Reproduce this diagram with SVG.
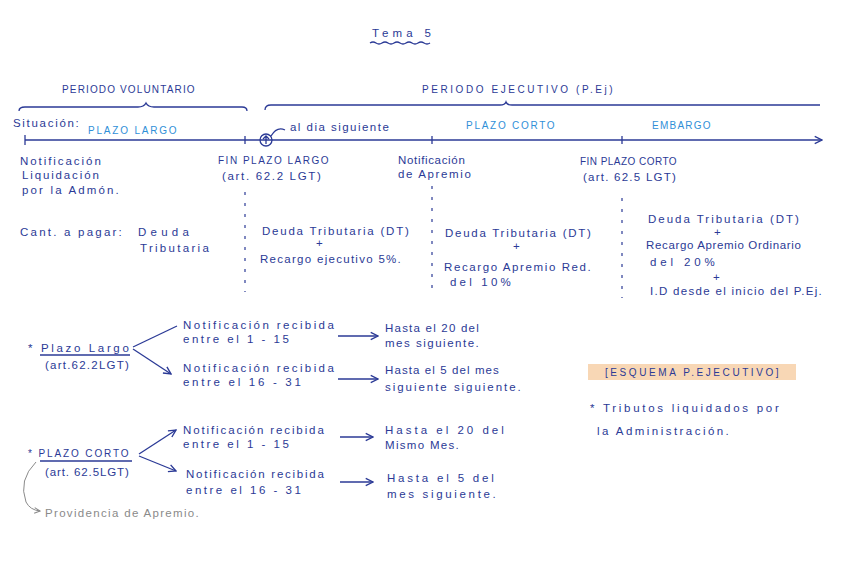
<svg xmlns="http://www.w3.org/2000/svg" width="848" height="588" viewBox="0 0 848 588">
<defs>
<style>
text{font-family:"Liberation Sans","Noto Sans",sans-serif;font-size:11.5px;fill:#2b3a96;letter-spacing:1.2px}
.cap{font-size:10px;letter-spacing:1.4px}
.cy{fill:#2f8fd8;font-size:10px;letter-spacing:1.4px}
.gr{fill:#8a8a8a}
.ln{stroke:#2b3a96;stroke-width:1.3;fill:none}
.dash{stroke:#2b3a96;stroke-width:1.2;stroke-dasharray:3 8;fill:none}
</style>
<marker id="ah" viewBox="0 0 10 10" refX="9" refY="5" markerWidth="7" markerHeight="7" orient="auto"><path d="M1,1 L9,5 L1,9" fill="none" stroke="#2b3a96" stroke-width="1.5"/></marker>
<marker id="ahg" viewBox="0 0 10 10" refX="9" refY="5" markerWidth="7" markerHeight="7" orient="auto"><path d="M1,1 L9,5 L1,9" fill="none" stroke="#8a8a8a" stroke-width="1.5"/></marker>
</defs>
<rect width="848" height="588" fill="#ffffff"/>

<g id="title">
<text x="372" y="37" textLength="60" lengthAdjust="spacing" font-size="12">Tema 5</text>
<path d="M370,43 q3,-2 6,0 t6,0 t6,0 t6,0 t6,0 t6,0 t6,0 t6,0 t6,0 t6,0" class="ln" stroke-width="1"/>
</g>

<g id="periodos">
<text x="62" y="93" class="cap" textLength="134" lengthAdjust="spacing">PERIODO VOLUNTARIO</text>
<text x="422" y="93" class="cap" textLength="192" lengthAdjust="spacing">PERIODO EJECUTIVO (P.Ej)</text>
</g>

<g id="connectors">
<path d="M19,111 q0,-4 6,-4 L138,107 q6,0 8,-4 q2,4 8,4 L242,107 q5,0 5,4" class="ln" stroke-width="1"/>
<path d="M265,110 q0,-5 6,-5 L500,105 q5,0 6,-3 q1,3 6,3 L820,105" class="ln" stroke-width="1"/>
<line x1="25" y1="140" x2="822" y2="140" class="ln" marker-end="url(#ah)"/>
<line x1="25" y1="135" x2="25" y2="145" class="ln"/>
<line x1="245" y1="136" x2="245" y2="144" class="ln"/>
<line x1="432" y1="136" x2="432" y2="144" class="ln"/>
<line x1="622" y1="136" x2="622" y2="144" class="ln"/>
<circle cx="266" cy="140" r="6" class="ln"/>
<path d="M266,144 L266,136 M263,139 L266,136 L269,139" class="ln" stroke-width="1"/>
<path d="M271,136 q6,-10 14,-6" class="ln" stroke-width="1"/>
<line x1="245" y1="192" x2="245" y2="292" class="dash"/>
<line x1="432" y1="186" x2="432" y2="292" class="dash"/>
<line x1="622" y1="198" x2="622" y2="298" class="dash"/>
<line x1="133" y1="347" x2="177" y2="326" class="ln"/>
<line x1="133" y1="349" x2="171" y2="374" class="ln" marker-end="url(#ah)"/>
<line x1="338" y1="336" x2="378" y2="336" class="ln" marker-end="url(#ah)"/>
<line x1="338" y1="379" x2="378" y2="379" class="ln" marker-end="url(#ah)"/>
<line x1="139" y1="454" x2="176" y2="430" class="ln" marker-end="url(#ah)"/>
<line x1="139" y1="456" x2="176" y2="471" class="ln" marker-end="url(#ah)"/>
<line x1="340" y1="437" x2="373" y2="437" class="ln" marker-end="url(#ah)"/>
<line x1="340" y1="482" x2="373" y2="482" class="ln" marker-end="url(#ah)"/>
<path d="M36,462 q-18,18 -10,40 q4,8 14,9" fill="none" stroke="#8a8a8a" stroke-width="1" marker-end="url(#ahg)"/>
</g>

<g id="timeline-labels">
<text x="13" y="127" textLength="67" lengthAdjust="spacing">Situación:</text>
<text x="88" y="134" class="cy" textLength="90" lengthAdjust="spacing">PLAZO LARGO</text>
<text x="290" y="131" textLength="100" lengthAdjust="spacing">al dia siguiente</text>
<text x="466" y="129" class="cy" textLength="90" lengthAdjust="spacing">PLAZO CORTO</text>
<text x="652" y="129" class="cy" textLength="60" lengthAdjust="spacing">EMBARGO</text>
</g>

<g id="notif-liquidacion">
<text x="20" y="165" textLength="82" lengthAdjust="spacing">Notificación</text>
<text x="22" y="179" textLength="78" lengthAdjust="spacing">Liquidación</text>
<text x="22" y="194" textLength="98" lengthAdjust="spacing">por la Admón.</text>
</g>
<g id="fin-plazo-largo">
<text x="218" y="164" class="cap" textLength="112" lengthAdjust="spacing">FIN PLAZO LARGO</text>
<text x="222" y="180" textLength="100" lengthAdjust="spacing">(art. 62.2 LGT)</text>
</g>
<g id="notif-apremio">
<text x="398" y="164" textLength="68" lengthAdjust="spacing">Notificación</text>
<text x="398" y="178" textLength="74" lengthAdjust="spacing">de Apremio</text>
</g>
<g id="fin-plazo-corto">
<text x="580" y="165" class="cap" textLength="98" lengthAdjust="spacing">FIN PLAZO CORTO</text>
<text x="583" y="181" textLength="94" lengthAdjust="spacing">(art. 62.5 LGT)</text>
</g>

<g id="cant-pagar">
<text x="20" y="236" textLength="103" lengthAdjust="spacing">Cant. a pagar:</text>
<text x="138" y="236" textLength="52" lengthAdjust="spacing">Deuda</text>
<text x="140" y="252" textLength="70" lengthAdjust="spacing">Tributaria</text>
</g>
<g id="cant-ejecutivo">
<text x="262" y="235" textLength="148" lengthAdjust="spacing">Deuda Tributaria (DT)</text>
<text x="316" y="247">+</text>
<text x="260" y="263" textLength="142" lengthAdjust="spacing">Recargo ejecutivo 5%.</text>
</g>
<g id="cant-reducido">
<text x="445" y="237" textLength="147" lengthAdjust="spacing">Deuda Tributaria (DT)</text>
<text x="513" y="250">+</text>
<text x="444" y="271" textLength="148" lengthAdjust="spacing">Recargo Apremio Red.</text>
<text x="450" y="286" textLength="62" lengthAdjust="spacing">del 10%</text>
</g>
<g id="cant-ordinario">
<text x="648" y="223" textLength="152" lengthAdjust="spacing">Deuda Tributaria (DT)</text>
<text x="714" y="236">+</text>
<text x="646" y="249" textLength="156" lengthAdjust="spacing">Recargo Apremio Ordinario</text>
<text x="650" y="266" textLength="66" lengthAdjust="spacing">del 20%</text>
<text x="713" y="281">+</text>
<text x="650" y="295" textLength="173" lengthAdjust="spacing">I.D desde el inicio del P.Ej.</text>
</g>

<g id="plazo-largo">
<text x="28" y="352" textLength="102" lengthAdjust="spacing">* Plazo Largo</text>
<line x1="40" y1="355" x2="130" y2="355" class="ln" stroke-width="1"/>
<text x="45" y="369" textLength="85" lengthAdjust="spacing">(art.62.2LGT)</text>
</g>
<g id="pl-1-15">
<text x="183" y="329" textLength="152" lengthAdjust="spacing">Notificación recibida</text>
<text x="183" y="343" textLength="107" lengthAdjust="spacing">entre el 1 - 15</text>
</g>
<g id="pl-16-31">
<text x="183" y="372" textLength="152" lengthAdjust="spacing">Notificación recibida</text>
<text x="183" y="386" textLength="119" lengthAdjust="spacing">entre el 16 - 31</text>
</g>
<g id="pl-res1">
<text x="385" y="332" textLength="95" lengthAdjust="spacing">Hasta el 20 del</text>
<text x="385" y="347" textLength="95" lengthAdjust="spacing">mes siguiente.</text>
</g>
<g id="pl-res2">
<text x="385" y="374" textLength="115" lengthAdjust="spacing">Hasta el 5 del mes</text>
<text x="385" y="391" textLength="137" lengthAdjust="spacing">siguiente siguiente.</text>
</g>

<g id="plazo-corto">
<text x="28" y="457" class="cap" textLength="102" lengthAdjust="spacing">* PLAZO CORTO</text>
<line x1="40" y1="461" x2="132" y2="461" class="ln" stroke-width="1"/>
<text x="45" y="476" textLength="85" lengthAdjust="spacing">(art. 62.5LGT)</text>
</g>
<g id="pc-1-15">
<text x="183" y="434" textLength="142" lengthAdjust="spacing">Notificación recibida</text>
<text x="183" y="448" textLength="107" lengthAdjust="spacing">entre el 1 - 15</text>
</g>
<g id="pc-16-31">
<text x="186" y="478" textLength="139" lengthAdjust="spacing">Notificación recibida</text>
<text x="186" y="494" textLength="116" lengthAdjust="spacing">entre el 16 - 31</text>
</g>
<g id="pc-res1">
<text x="385" y="434" textLength="120" lengthAdjust="spacing">Hasta el 20 del</text>
<text x="385" y="449" textLength="75" lengthAdjust="spacing">Mismo Mes.</text>
</g>
<g id="pc-res2">
<text x="387" y="482" textLength="108" lengthAdjust="spacing">Hasta el 5 del</text>
<text x="387" y="498" textLength="110" lengthAdjust="spacing">mes siguiente.</text>
</g>
<g id="providencia">
<text x="45" y="517" class="gr" textLength="155" lengthAdjust="spacing">Providencia de Apremio.</text>
</g>

<g id="esquema">
<rect x="588" y="364" width="208" height="16" fill="#f8d7b5"/>
<text x="605" y="376" class="cap" textLength="175" lengthAdjust="spacing">[ESQUEMA P.EJECUTIVO]</text>
</g>
<g id="nota">
<text x="590" y="412" textLength="190" lengthAdjust="spacing">* Tributos liquidados por</text>
<text x="597" y="435" textLength="133" lengthAdjust="spacing">la Administración.</text>
</g>
</svg>
